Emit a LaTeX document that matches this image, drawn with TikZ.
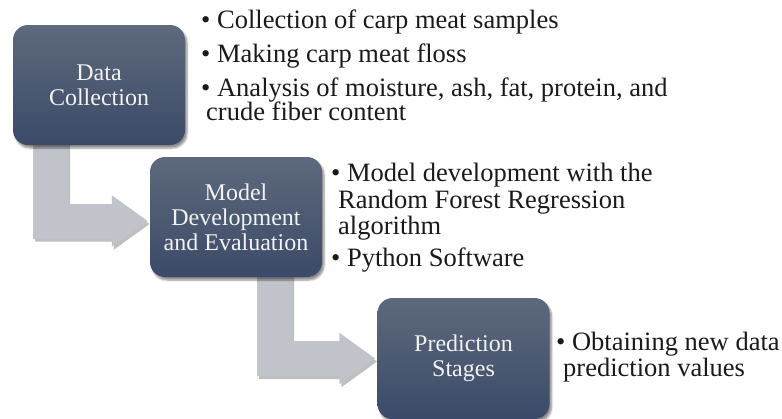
\documentclass[tikz,border=0pt]{standalone}
\usepackage{fontspec}
\setmainfont{Liberation Serif}
\usetikzlibrary{arrows.meta,shadows.blur,backgrounds}
\definecolor{boxtop}{HTML}{5D697C}
\definecolor{boxbot}{HTML}{3B4A68}
\definecolor{arrowgray}{HTML}{C0C3C9}
\definecolor{txtdark}{HTML}{1A1A1A}
\newcommand{\itm}{\textbullet\ }

\begin{document}
\begin{tikzpicture}[x=1pt,y=-1pt,
  stage/.style={rounded corners=15pt, minimum width=172pt, minimum height=120pt,
    top color=boxtop, bottom color=boxbot, text=white!95!black, align=center,
    font=\fontsize{24}{25}\selectfont,
    blur shadow={shadow xshift=2pt, shadow yshift=-3pt, shadow opacity=45, shadow blur steps=6}},
  points/.style={anchor=north west, inner sep=0pt, align=left, text=txtdark},
  bentarrow/.style={draw=arrowgray, line width=35pt, line join=miter,
    -{Triangle[width=49pt,length=36pt]}}]
\useasboundingbox (0,0) rectangle (782,418);

% stages
\node[stage] (dc) at (99,85) {Data\\Collection};
\node[stage] (mde) at (236,217) {Model\\Development\\and Evaluation};
\node[stage, minimum height=121pt] (ps) at (463.5,358.5) {Prediction\\Stages};

% bent arrows, under the stages
\begin{scope}[on background layer]
\begin{scope}[transparency group, opacity=.25, transform canvas={shift={(2pt,-3pt)}}]
\draw[bentarrow, draw=black] ([xshift=-48.5pt]dc.center) |- ([xshift=-2pt,yshift=-4pt]mde.west);
\draw[bentarrow, draw=black] ([xshift=38.5pt]mde.center) |- ([xshift=-2pt,yshift=0pt]ps.west);
\end{scope}
\draw[bentarrow] ([xshift=-48.5pt]dc.center) |- ([xshift=-2pt,yshift=-4pt]mde.west);
\draw[bentarrow] ([xshift=38.5pt]mde.center) |- ([xshift=-2pt,yshift=0pt]ps.west);
\end{scope}

% bullet lists
\node[points, font=\fontsize{26.5}{24.5}\selectfont] (dcl) at (201,10)
  {\itm Collection of carp meat samples\\[9pt]
  \itm Making carp meat floss\\[9.5pt]
  \itm Analysis of moisture, ash, fat, protein, and\\
  \hspace*{5pt}crude fiber content};
\node[points, font=\fontsize{26.5}{26.5}\selectfont] (mdel) at (331,163)
  {\itm Model development with the\\
  \hspace*{7pt}Random Forest Regression\\
  \hspace*{7pt}algorithm\\[5.5pt]
  \itm Python Software};
\node[points, font=\fontsize{26.5}{26}\selectfont] (psl) at (556,332)
  {\itm Obtaining new data\\
  \hspace*{7pt}prediction values};
\end{tikzpicture}
\end{document}
